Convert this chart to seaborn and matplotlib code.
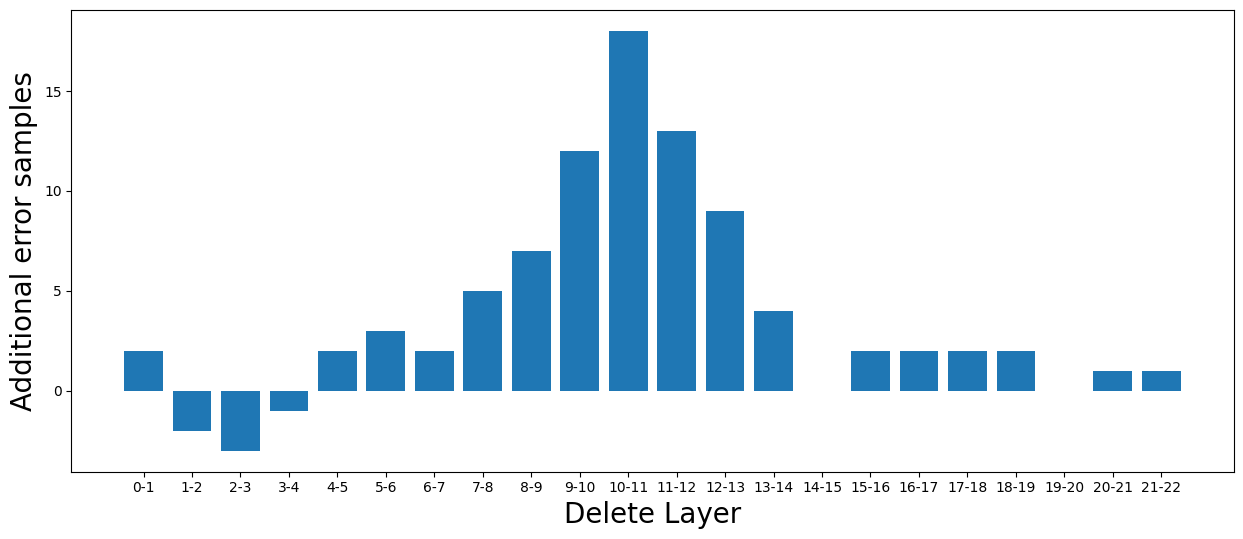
import matplotlib
matplotlib.use("Agg")
import matplotlib.pyplot as plt
import seaborn as sns
import pandas as pd

layers = ["0-1", "1-2", "2-3", "3-4", "4-5", "5-6", "6-7", "7-8", "8-9", "9-10",
          "10-11", "11-12", "12-13", "13-14", "14-15", "15-16", "16-17", "17-18",
          "18-19", "19-20", "20-21", "21-22"]
errors = [2, -2, -3, -1, 2, 3, 2, 5, 7, 12, 18, 13, 9, 4, 0, 2, 2, 2, 2, 0, 1, 1]

df = pd.DataFrame({"layer": layers, "errors": errors})

fig = plt.figure(figsize=(12.43, 5.39), dpi=100)
L, R, T, B = 71.3, 1233.5, 10.3, 471.5
ax = fig.add_axes([L/1243, 1-B/539, (R-L)/1243, (B-T)/539])
sns.barplot(data=df, x="layer", y="errors", order=layers, color="#1f77b4",
            saturation=1, width=0.8, ax=ax)
ax.set_autoscalex_on(True)
ax.set_autoscaley_on(True)
ax.margins(x=0.05, y=0.05)
ax.relim()
ax.autoscale_view()
ax.set_xlabel("Delete Layer", fontsize=20)
ax.set_ylabel("Additional error samples", fontsize=20)
ax.tick_params(labelsize=10)
fig.savefig("out.png", dpi=100)
